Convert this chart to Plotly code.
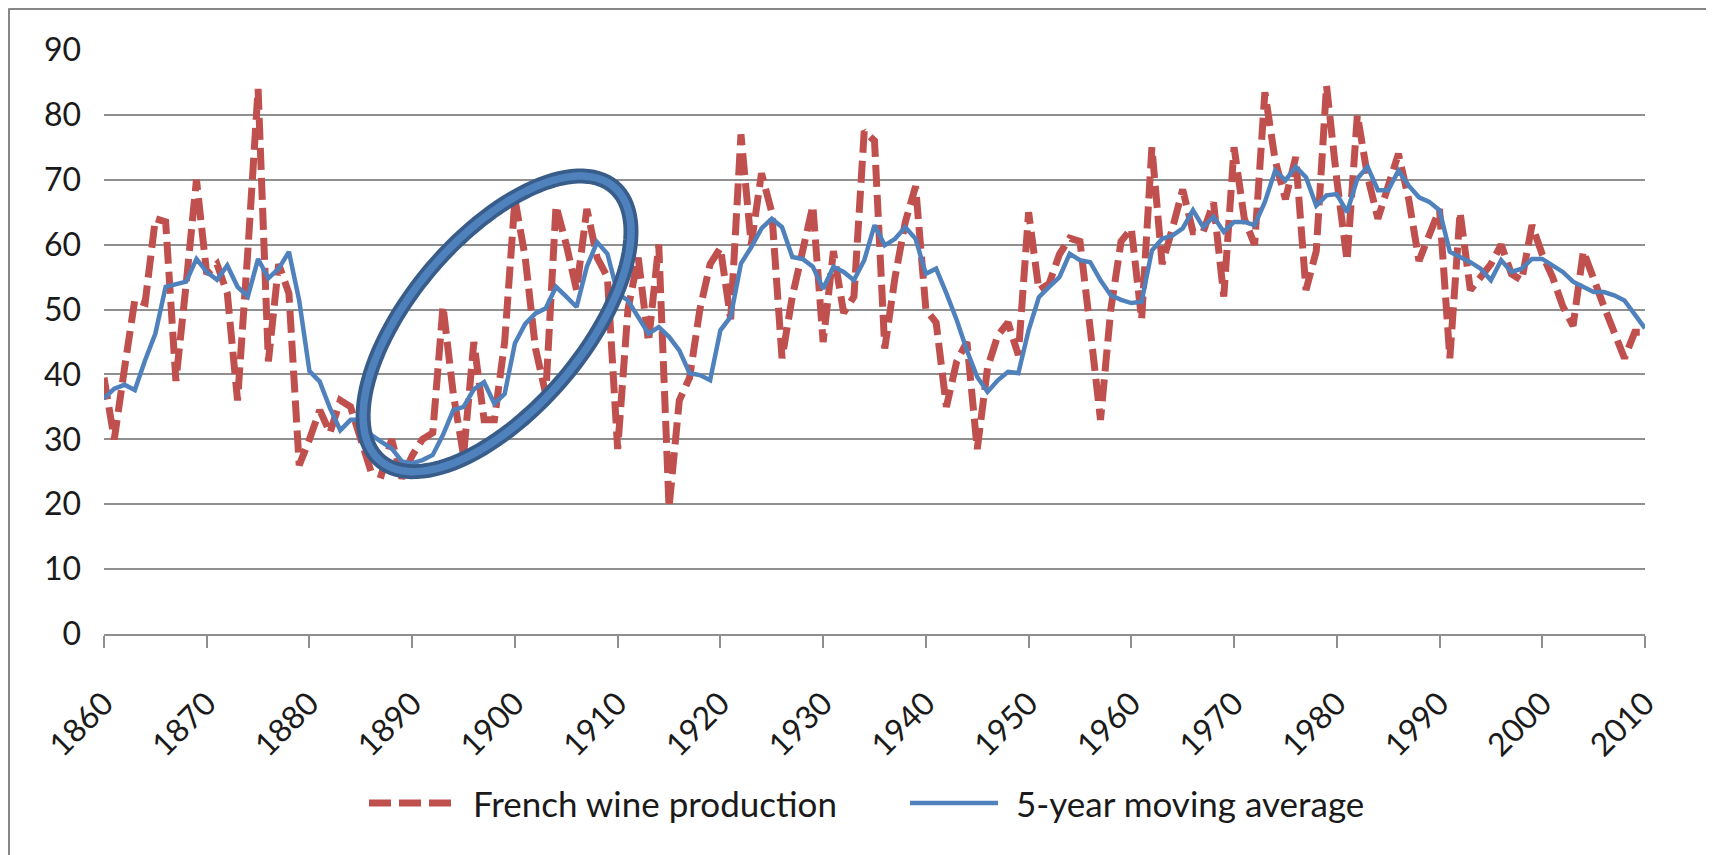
import numpy as np
import plotly.graph_objects as go

# Years 1860-2010
years = list(range(1860, 2011))

# French wine production (per decade)
production = [
    39.5, 30, 41, 51.5, 51, 64, 63.5, 39, 54, 70,          # 1860s
    55.5, 57, 52.5, 36, 59, 84, 42, 57, 52.5, 26,          # 1870s
    30, 34.5, 31, 36, 35, 30, 25, 24.5, 30, 24,            # 1880s
    27.5, 30, 31, 50.5, 37, 27.5, 45, 33, 33, 45,          # 1890s
    67, 58, 44, 37, 66, 60, 53, 65.5, 58, 55,              # 1900s
    28.5, 50, 58, 45, 60, 19.5, 36, 39.5, 50, 57,          # 1910s
    59.5, 48.5, 77, 60, 71, 65, 42.5, 52, 59, 66,          # 1920s
    45, 59, 49.5, 52, 77.5, 76, 44, 55, 63.5, 69,          # 1930s
    50, 48, 35, 42, 45, 28.5, 41, 46, 48, 43,              # 1940s
    65, 53, 54, 58.5, 61, 60.5, 47, 33, 50, 60.5,          # 1950s
    62.5, 48.5, 75, 57, 62.5, 68.5, 62, 62, 66.5, 52,      # 1960s
    75, 64, 60, 83.5, 73, 67, 73.5, 53, 59, 84.5,          # 1970s
    70, 57.5, 80, 70.5, 64, 69, 74, 67, 57.5, 61.5,        # 1980s
    65.5, 42.5, 65, 53, 55, 57, 60, 55.5, 54.5, 63,        # 1990s
    58.5, 55, 50.5, 47.5, 59, 54.5, 50.5, 46.5, 42.5, 46.5,  # 2000s
    46.5,                                                  # 2010
]

# 5-year moving average
moving_avg = [
    36.3, 37.8, 38.4, 37.6, 42.2, 46.3, 53.5, 53.9, 54.3, 57.8,
    55.8, 54.6, 56.8, 53.5, 52, 57.8, 54.8, 56.3, 58.9, 51.4,
    40.5, 38.9, 34.8, 31.4, 33, 33, 30.7, 29.6, 28.6, 26.6,
    26.3, 26.8, 27.6, 30.7, 34.5, 35, 37.7, 38.8, 35.5, 37,
    44.8, 47.8, 49.4, 50.2, 53.5, 52, 50.4, 56.6, 60.4, 58.6,
    52.5, 51.4, 48.9, 46.3, 47.3, 45.8, 43.7, 40.2, 39.9, 39.1,
    46.8, 48.9, 57.1, 59.6, 62.5, 64, 62.7, 58.1, 57.8, 56.6,
    53.2, 56.6, 55.8, 54.5, 57.6, 63, 59.9, 60.9, 62.7, 60.9,
    55.5, 56.3, 52.5, 48.4, 43.7, 39.6, 37.3, 39.1, 40.4, 40.2,
    46.8, 51.9, 53.5, 55, 58.6, 57.6, 57.3, 54.5, 52.2, 51.5,
    51, 51.2, 59.1, 60.9, 61.4, 62.5, 65.3, 62.7, 64.3, 62,
    63.5, 63.5, 63, 66.6, 71.4, 69.9, 72, 70.4, 66, 67.6,
    67.8, 65, 70.2, 72, 68.4, 68.4, 71.4, 69.1, 67.3, 66.6,
    65.3, 58.9, 58.1, 57.3, 56.3, 54.5, 57.6, 55.8, 56.3, 57.8,
    57.8, 56.8, 55.8, 54.3, 53.5, 52.7, 52.7, 52.2, 51.4, 49.1,
    47.1,
]

tick_years = list(range(1860, 2011, 10))
series_names = ["French wine production", "5-year moving average"]

RED = "#C0504D"
BLUE = "#4F81BD"
NAVY = "#385D8A"
GRID = "#8f8f8f"
TXT = "#1a1a1a"
FONT = "Lato"

# the page adds an 8px body margin, so the figure is laid out 8px up/left
W, H = 1706, 847
L, T = 96, 42
plot_right, plot_bottom = 1637, 626
R, B = W - plot_right, H - plot_bottom
plot_w, plot_h = plot_right - L, plot_bottom - T
px_per_year = plot_w / 150
px_per_unit = plot_h / 90


def px_x(p):
    return (p - L) / plot_w


def px_y(p):
    return (plot_bottom - p) / plot_h


fig = go.Figure()

fig.add_trace(go.Scatter(
    x=years, y=production, mode="lines", name=series_names[0],
    line=dict(color=RED, width=7, dash="22px,8px"),
))
fig.add_trace(go.Scatter(
    x=years, y=moving_avg, mode="lines", name=series_names[1],
    line=dict(color=BLUE, width=4.5),
))

# tilted ellipse highlighting 1887-1908
cx, cy = 1898.26, 47.8
a, b, theta = 180, 86, np.radians(-49.5)
t = np.linspace(0, 2 * np.pi, 121)
dx = a * np.cos(theta) * np.cos(t) - b * np.sin(theta) * np.sin(t)
dy = a * np.sin(theta) * np.cos(t) + b * np.cos(theta) * np.sin(t)
ex = cx + dx / px_per_year
ey = cy - dy / px_per_unit
path = "M " + " L ".join(f"{u:.3f},{v:.3f}" for u, v in zip(ex, ey)) + " Z"

shapes = [
    dict(type="path", path=path, xref="x", yref="y", line=dict(color=NAVY, width=15)),
    dict(type="path", path=path, xref="x", yref="y", line=dict(color=BLUE, width=7.5)),
]

# outer chart border (left, top, right)
border = dict(color="#878787", width=3)
shapes.append(dict(type="line", xref="paper", yref="paper",
                   x0=px_x(0.5), x1=px_x(0.5), y0=px_y(H + 5), y1=px_y(0.5), line=border))
shapes.append(dict(type="line", xref="paper", yref="paper",
                   x0=px_x(0.5), x1=px_x(1704), y0=px_y(0.5), y1=px_y(0.5), line=border))
shapes.append(dict(type="line", xref="paper", yref="paper",
                   x0=px_x(1704), x1=px_x(1704), y0=px_y(0.5), y1=px_y(H + 5), line=border))

# legend drawn by hand (long line samples like the original)
leg_y = px_y(795)
shapes.append(dict(type="line", xref="paper", yref="paper",
                   x0=px_x(361), x1=px_x(449), y0=leg_y, y1=leg_y,
                   line=dict(color=RED, width=7, dash="22px,8px")))
shapes.append(dict(type="line", xref="paper", yref="paper",
                   x0=px_x(902), x1=px_x(990), y0=leg_y, y1=leg_y,
                   line=dict(color=BLUE, width=4.5)))

annotations = [
    dict(x=px_x(463), y=leg_y, xref="paper", yref="paper", text=series_names[0],
         showarrow=False, xanchor="left", yanchor="middle",
         font=dict(family=FONT, size=35, color=TXT)),
    dict(x=px_x(1006), y=leg_y, xref="paper", yref="paper", text=series_names[1],
         showarrow=False, xanchor="left", yanchor="middle",
         font=dict(family=FONT, size=35, color=TXT)),
]

fig.update_layout(
    width=W, height=H,
    margin=dict(l=L, r=R, t=T, b=B, autoexpand=False),
    paper_bgcolor="white", plot_bgcolor="white",
    showlegend=False,
    shapes=shapes,
    annotations=annotations,
    font=dict(family=FONT, size=32, color=TXT),
)

fig.update_xaxes(
    range=[1860, 2010],
    tickvals=tick_years,
    ticktext=[str(y) for y in tick_years],
    tickangle=-45,
    ticks="outside", ticklen=12, tickwidth=2, tickcolor=GRID,
    showline=True, linecolor=GRID, linewidth=2,
    showgrid=False, zeroline=False,
    ticklabelstandoff=24,
    tickfont=dict(family=FONT, size=32, color=TXT),
)
fig.update_yaxes(
    range=[0, 90], dtick=10,
    showgrid=True, gridcolor=GRID, gridwidth=2,
    showline=False, zeroline=False, ticks="",
    ticklabelstandoff=22,
    tickfont=dict(family=FONT, size=32, color=TXT),
)

fig.write_html("out.html")
